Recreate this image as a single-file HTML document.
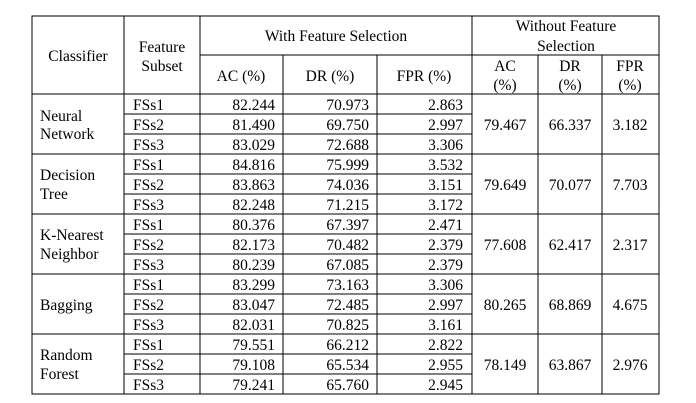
<!DOCTYPE html>
<html><head><meta charset="utf-8"><style>
html,body{margin:0;padding:0;background:#fff;width:696px;height:403px;overflow:hidden}
text{font-family:'Liberation Serif','Times New Roman',Times,'DejaVu Serif',serif;font-size:15.5px;fill:#000}
</style></head><body>
<svg width="696" height="403" xmlns="http://www.w3.org/2000/svg" font-family="'Liberation Serif', 'Times New Roman', Times, 'DejaVu Serif', serif" font-size="15.5">
<g stroke="#000" stroke-width="1.2" fill="none" shape-rendering="crispEdges">
<rect x="32" y="16" width="627" height="378"/>
<line x1="124" y1="16" x2="124" y2="394"/>
<line x1="200" y1="16" x2="200" y2="394"/>
<line x1="283" y1="55" x2="283" y2="394"/>
<line x1="377" y1="55" x2="377" y2="394"/>
<line x1="472" y1="16" x2="472" y2="394"/>
<line x1="538" y1="55" x2="538" y2="394"/>
<line x1="602" y1="55" x2="602" y2="394"/>
<line x1="200" y1="55" x2="659" y2="55"/>
<line x1="32" y1="94" x2="659" y2="94"/>
<line x1="32" y1="154" x2="659" y2="154"/>
<line x1="32" y1="214" x2="659" y2="214"/>
<line x1="32" y1="274" x2="659" y2="274"/>
<line x1="32" y1="334" x2="659" y2="334"/>
<line x1="124" y1="114" x2="472" y2="114"/><line x1="124" y1="134" x2="472" y2="134"/>
<line x1="124" y1="174" x2="472" y2="174"/><line x1="124" y1="194" x2="472" y2="194"/>
<line x1="124" y1="234" x2="472" y2="234"/><line x1="124" y1="254" x2="472" y2="254"/>
<line x1="124" y1="294" x2="472" y2="294"/><line x1="124" y1="314" x2="472" y2="314"/>
<line x1="124" y1="354" x2="472" y2="354"/><line x1="124" y1="374" x2="472" y2="374"/>
</g>
<g text-anchor="middle">
<text x="78" y="61">Classifier</text>
<text x="162" y="52">Feature</text><text x="162" y="71">Subset</text>
<text x="336" y="41">With Feature Selection</text>
<text x="241" y="81">AC (%)</text><text x="330" y="81">DR (%)</text><text x="424" y="81">FPR (%)</text>
<text x="566" y="31">Without Feature</text><text x="566" y="51">Selection</text>
<text x="505" y="71">AC</text><text x="505" y="90">(%)</text>
<text x="570" y="71">DR</text><text x="570" y="90">(%)</text>
<text x="630" y="71">FPR</text><text x="630" y="90">(%)</text>
</g>
<g>
<text x="40" y="121">Neural</text><text x="40" y="139">Network</text>
<text x="40" y="180">Decision</text><text x="40" y="199">Tree</text>
<text x="40" y="240">K-Nearest</text><text x="40" y="259">Neighbor</text>
<text x="40" y="310">Bagging</text>
<text x="40" y="360">Random</text><text x="40" y="379">Forest</text>
</g>
<g>
<text x="133" y="110">FSs1</text><text x="133" y="130">FSs2</text><text x="133" y="150">FSs3</text>
<text x="133" y="170">FSs1</text><text x="133" y="190">FSs2</text><text x="133" y="210">FSs3</text>
<text x="133" y="230">FSs1</text><text x="133" y="250">FSs2</text><text x="133" y="270">FSs3</text>
<text x="133" y="290">FSs1</text><text x="133" y="310">FSs2</text><text x="133" y="330">FSs3</text>
<text x="133" y="350">FSs1</text><text x="133" y="370">FSs2</text><text x="133" y="390">FSs3</text>
</g>
<g text-anchor="end">
<text x="275" y="110">82.244</text><text x="369" y="110">70.973</text><text x="463" y="110">2.863</text>
<text x="275" y="130">81.490</text><text x="369" y="130">69.750</text><text x="463" y="130">2.997</text>
<text x="275" y="150">83.029</text><text x="369" y="150">72.688</text><text x="463" y="150">3.306</text>
<text x="275" y="170">84.816</text><text x="369" y="170">75.999</text><text x="463" y="170">3.532</text>
<text x="275" y="190">83.863</text><text x="369" y="190">74.036</text><text x="463" y="190">3.151</text>
<text x="275" y="210">82.248</text><text x="369" y="210">71.215</text><text x="463" y="210">3.172</text>
<text x="275" y="230">80.376</text><text x="369" y="230">67.397</text><text x="463" y="230">2.471</text>
<text x="275" y="250">82.173</text><text x="369" y="250">70.482</text><text x="463" y="250">2.379</text>
<text x="275" y="270">80.239</text><text x="369" y="270">67.085</text><text x="463" y="270">2.379</text>
<text x="275" y="290">83.299</text><text x="369" y="290">73.163</text><text x="463" y="290">3.306</text>
<text x="275" y="310">83.047</text><text x="369" y="310">72.485</text><text x="463" y="310">2.997</text>
<text x="275" y="330">82.031</text><text x="369" y="330">70.825</text><text x="463" y="330">3.161</text>
<text x="275" y="350">79.551</text><text x="369" y="350">66.212</text><text x="463" y="350">2.822</text>
<text x="275" y="370">79.108</text><text x="369" y="370">65.534</text><text x="463" y="370">2.955</text>
<text x="275" y="390">79.241</text><text x="369" y="390">65.760</text><text x="463" y="390">2.945</text>
</g>
<g text-anchor="middle">
<text x="505" y="130">79.467</text><text x="570" y="130">66.337</text><text x="630" y="130">3.182</text>
<text x="505" y="190">79.649</text><text x="570" y="190">70.077</text><text x="630" y="190">7.703</text>
<text x="505" y="250">77.608</text><text x="570" y="250">62.417</text><text x="630" y="250">2.317</text>
<text x="505" y="310">80.265</text><text x="570" y="310">68.869</text><text x="630" y="310">4.675</text>
<text x="505" y="370">78.149</text><text x="570" y="370">63.867</text><text x="630" y="370">2.976</text>
</g>
</svg>
</body></html>
